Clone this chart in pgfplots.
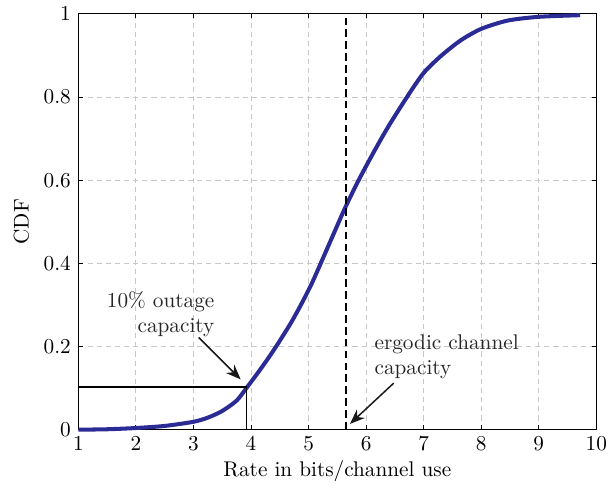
\documentclass[border=0pt]{standalone}
\usepackage{pgfplots}
\pgfplotsset{compat=1.18}
\usetikzlibrary{arrows.meta}

\definecolor{cdfblue}{RGB}{43,43,150}
\definecolor{gridgray}{RGB}{200,200,200}

\begin{document}
\begin{tikzpicture}[x=1pt,y=1pt]
\def\px{0.467}
\begin{axis}[
  name=main,
  scale only axis,
  width=243.8pt, height=195.7pt,
  xmin=1, xmax=10, ymin=0, ymax=1,
  xtick={1,...,10},
  ytick={0,0.2,0.4,0.6,0.8,1},
  tick align=inside,
  major tick length=2pt,
  tick style={black, line width=0.4pt},
  axis line style={black, line width=0.5pt},
  grid=major,
  major grid style={gridgray, dash pattern=on 2.4pt off 1.9pt, line width=0.4pt},
  xlabel={Rate in bits/channel use},
  ylabel={CDF},
  xlabel style={yshift=2.5pt},
  ylabel style={yshift=0pt},
  clip=false,
]
% empirical CDF of the rate
\addplot[cdfblue, line width=1.9pt, line join=round, smooth, tension=0.45] coordinates {
  (1.0,0.0) (1.5,0.001) (2.0,0.004) (2.5,0.009) (3.0,0.019)
  (3.25,0.029) (3.5,0.045) (3.75,0.070) (3.92,0.100) (4.12,0.137)
  (4.3,0.172) (4.45,0.203) (4.69,0.256) (4.87,0.301) (5.04,0.347)
  (5.17,0.387) (5.41,0.463) (5.64,0.535) (5.87,0.600) (6.13,0.667)
  (6.39,0.730) (6.71,0.800) (7.0,0.858) (7.31,0.900) (7.65,0.937)
  (8.0,0.964) (8.46,0.984) (9.0,0.993) (9.72,0.997)
};
% 10% outage capacity
\addplot[black, line width=0.7pt] coordinates {(1,0.103) (3.92,0.103) (3.92,0)};
% ergodic channel capacity
\addplot[black, line width=0.75pt, dash pattern=on 3.6pt off 2pt] coordinates {(5.65,0) (5.65,1)};

\node[align=right, anchor=east, inner sep=0pt, font=\normalsize, text=black!85]
  at (axis cs:3.37,0.278) {10\% outage\\capacity};
\draw[black!90, line width=0.7pt, -{Stealth[length=7pt,width=5.5pt]}]
  (axis cs:3.09,0.222) -- (axis cs:3.82,0.121);

\node[align=left, anchor=west, inner sep=0pt, font=\normalsize, text=black!85]
  at (axis cs:6.14,0.175) {ergodic channel\\capacity};
\draw[black!90, line width=0.7pt, -{Stealth[length=7pt,width=5.5pt]}]
  (axis cs:6.48,0.112) -- (axis cs:5.72,0.014);
\end{axis}
% page frame around the axis and its labels
\path (main.south west) ++(-79*\px,-60*\px) coordinate (bbsw);
\path (main.north east) ++(13*\px,7*\px) coordinate (bbne);
\path (bbsw) rectangle (bbne);
\end{tikzpicture}
\end{document}
